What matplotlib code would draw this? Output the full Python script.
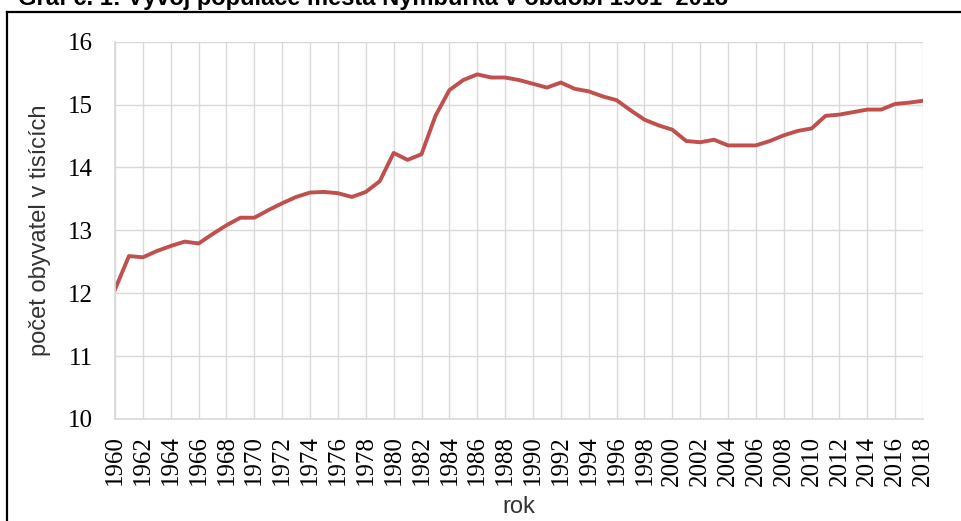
import matplotlib
matplotlib.use("Agg")
import matplotlib.pyplot as plt
from matplotlib.lines import Line2D

# Population of Nymburk (thousands)
years = list(range(1960, 2019))
population = [
    12.06, 12.59, 12.57, 12.67, 12.75, 12.82, 12.79, 12.94, 13.08, 13.20,
    13.20, 13.32, 13.43, 13.53, 13.60, 13.61, 13.59, 13.53, 13.61, 13.78,
    14.23, 14.12, 14.21, 14.82, 15.23, 15.39, 15.48, 15.43, 15.43, 15.39,
    15.33, 15.27, 15.35, 15.25, 15.21, 15.13, 15.07, 14.91, 14.76, 14.67,
    14.60, 14.42, 14.40, 14.44, 14.35, 14.35, 14.35, 14.42, 14.51, 14.58,
    14.62, 14.82, 14.84, 14.88, 14.92, 14.92, 15.01, 15.03, 15.06,
]
xtick_years = list(range(1960, 2019, 2))
yticks = [10, 11, 12, 13, 14, 15, 16]

title = "Graf č. 1: Vývoj populace města Nymburka v období 1961–2018"
ylabel = "počet obyvatel v tisících"
xlabel = "rok"

grid_col = "#d9d9d9"
line_col = "#c0504d"

fig = plt.figure(figsize=(9.61, 5.21), dpi=100)
ax = fig.add_axes([0.1197, 0.196, 0.8408, 0.724])

ax.plot(years, population, color=line_col, linewidth=2.8, solid_joinstyle="round")

ax.set_xlim(1960, 2018)
ax.set_ylim(10, 16)
ax.set_xticks(xtick_years)
ax.set_xticklabels([str(y) for y in xtick_years], rotation=90)
ax.set_yticks(yticks)
ax.set_yticklabels([str(v) for v in yticks])
ax.tick_params(labelsize=18, labelfontfamily="Liberation Serif", labelcolor="black")
ax.tick_params(axis="x", length=0, pad=12)
ax.tick_params(axis="y", length=0, pad=16)

ax.grid(True, color=grid_col, linewidth=1.0)
ax.set_axisbelow(True)
for side in ["top", "right"]:
    ax.spines[side].set_visible(False)
for side in ["left", "bottom"]:
    ax.spines[side].set_color(grid_col)
    ax.spines[side].set_linewidth(1.2)

ax.set_ylabel(ylabel, fontfamily="Liberation Sans", fontsize=17, color="#333333")
ax.yaxis.set_label_coords(-0.079, 0.5)
ax.set_xlabel(xlabel, fontfamily="Liberation Sans", fontsize=17, color="#333333", va="top")
ax.xaxis.set_label_coords(0.5, -0.205)

# outer frame (only top and left edges are visible in the crop)
fig.add_artist(Line2D([7 / 961, 1.0], [1 - 12 / 521, 1 - 12 / 521],
                      transform=fig.transFigure, color="black", linewidth=1.6))
fig.add_artist(Line2D([7 / 961, 7 / 961], [0.0, 1 - 12 / 521],
                      transform=fig.transFigure, color="black", linewidth=1.6))

# title, cut off at the top edge as in the source
fig.text(18 / 961, 1 - 5 / 521, title, fontsize=17, fontweight="bold",
         fontfamily=["Liberation Sans Narrow", "Liberation Sans"], va="baseline", ha="left")

fig.savefig("out.png", dpi=100)
